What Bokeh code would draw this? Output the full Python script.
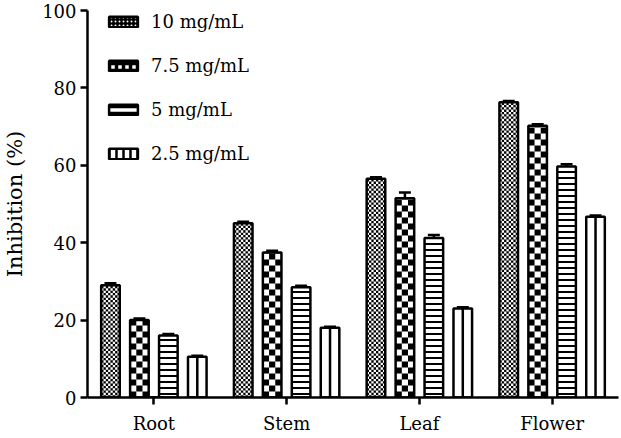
from bokeh.plotting import figure
from bokeh.models import (ColumnDataSource, FactorRange, SingleIntervalTicker, Legend, LegendItem)
from bokeh.transform import dodge
from bokeh.embed import file_html
from bokeh.resources import INLINE

# ---- data ----
cats = ["Root", "Stem", "Leaf", "Flower"]
series_names = ["10 mg/mL", "7.5 mg/mL", "5 mg/mL", "2.5 mg/mL"]
v10 = [29.0, 45.0, 56.5, 76.3]
v75 = [20.0, 37.5, 51.5, 70.2]
v5 = [16.0, 28.5, 41.2, 59.7]
v25 = [10.5, 18.0, 23.0, 46.7]
e10 = [0.5, 0.4, 0.4, 0.3]
e75 = [0.4, 0.4, 1.5, 0.4]
e5 = [0.4, 0.4, 0.8, 0.6]
e25 = [0.3, 0.3, 0.3, 0.3]
y_ticks_interval = 20
y_label = "Inhibition (%)"

FONT = "DejaVu Serif"

p = figure(x_range=FactorRange(factors=cats, range_padding=0), y_range=(0, 100),
           width=621, height=438, output_backend="svg", toolbar_location=None,
           min_border_left=87, min_border_right=3, min_border_top=10, min_border_bottom=41)
p.outline_line_color = None
p.xgrid.visible = False
p.ygrid.visible = False
p.background_fill_color = "white"
p.border_fill_color = "white"

pitch = 0.218
bw = 0.14
offsets = [-1.5 * pitch, -0.5 * pitch, 0.5 * pitch, 1.5 * pitch]
LW = 2.5
cap = 0.045


def checker_cells(vals, off, ncols, cell_h, parity):
    """Cells of a checkerboard texture inside each bar (synthetic x coordinates)."""
    L, R, B, T = [], [], [], []
    cw = bw / ncols
    for ci, v in enumerate(vals):
        xl = ci + 0.5 + off - bw / 2
        j = 0
        while j * cell_h < v:
            b = j * cell_h
            t = min(b + cell_h, v)
            for i in range(ncols):
                if (i + j) % 2 == parity:
                    L.append(xl + i * cw)
                    R.append(xl + (i + 1) * cw)
                    B.append(b)
                    T.append(t)
            j += 1
    return ColumnDataSource(dict(left=L, right=R, bottom=B, top=T))


src = ColumnDataSource(dict(cats=cats, v10=v10, v75=v75, v5=v5, v25=v25,
                            t10=[a + b for a, b in zip(v10, e10)],
                            t75=[a + b for a, b in zip(v75, e75)],
                            t5=[a + b for a, b in zip(v5, e5)],
                            t25=[a + b for a, b in zip(v25, e25)],
                            zero=[0] * len(cats)))
keys = ["10", "75", "5", "25"]

# 10 mg/mL: black bars with a fine white checker
p.vbar(x=dodge("cats", offsets[0], range=p.x_range), top="v10", bottom=0, width=bw, source=src,
       fill_color="black", line_color=None)
p.quad(left="left", right="right", bottom="bottom", top="top",
       source=checker_cells(v10, offsets[0], 8, 0.6, 0), fill_color="white", line_color=None)

# 7.5 mg/mL: coarse checker
p.vbar(x=dodge("cats", offsets[1], range=p.x_range), top="v75", bottom=0, width=bw, source=src,
       fill_color="white", line_color=None)
p.quad(left="left", right="right", bottom="bottom", top="top",
       source=checker_cells(v75, offsets[1], 3, 1.55, 0), fill_color="black", line_color=None)

# 5 mg/mL: horizontal lines
p.vbar(x=dodge("cats", offsets[2], range=p.x_range), top="v5", bottom=0, width=bw, source=src,
       fill_color="white", line_color=None, hatch_pattern="horizontal_line", hatch_scale=6,
       hatch_weight=2, hatch_color="black")

# 2.5 mg/mL: one vertical line in the middle
p.segment(x0=dodge("cats", offsets[3], range=p.x_range), x1=dodge("cats", offsets[3], range=p.x_range),
          y0="zero", y1="v25", source=src, line_color="black", line_width=LW)

# outlines
for k, off in zip(keys, offsets):
    p.vbar(x=dodge("cats", off, range=p.x_range), top="v" + k, bottom=0, width=bw, source=src,
           fill_color=None, line_color="black", line_width=LW)

# error bars
for k, off in zip(keys, offsets):
    p.segment(x0=dodge("cats", off, range=p.x_range), x1=dodge("cats", off, range=p.x_range),
              y0="v" + k, y1="t" + k, source=src, line_color="black", line_width=LW)
    p.segment(x0=dodge("cats", off - cap, range=p.x_range), x1=dodge("cats", off + cap, range=p.x_range),
              y0="t" + k, y1="t" + k, source=src, line_color="black", line_width=LW)

# legend swatches (drawn below the visible frame, used only by the legend)
dummy_src = ColumnDataSource(dict(cats=cats[:1], top=[-20], bottom=[-30]))
swatch_styles = [
    dict(fill_color="black", hatch_pattern="dot", hatch_scale=4, hatch_weight=1.5, hatch_color="white"),
    dict(fill_color="white", hatch_pattern="cross", hatch_scale=7, hatch_weight=3.5, hatch_color="black"),
    dict(fill_color="white", hatch_pattern="horizontal_line", hatch_scale=6, hatch_weight=2.5, hatch_color="black"),
    dict(fill_color="white", hatch_pattern="vertical_line", hatch_scale=7, hatch_weight=2.5, hatch_color="black"),
]
items = []
for name, st in zip(series_names, swatch_styles):
    r = p.vbar(x="cats", top="top", bottom="bottom", width=bw, source=dummy_src,
               line_color="black", line_width=LW, **st)
    items.append(LegendItem(label=name, renderers=[r]))

legend = Legend(items=items, location=(18, 233), margin=0, padding=0, spacing=23,
                glyph_width=36, glyph_height=13, label_standoff=10, label_height=21,
                background_fill_alpha=0, border_line_color=None,
                label_text_font=FONT, label_text_font_size="18px", label_text_color="black")
p.add_layout(legend, "center")

# axes
for ax in (p.xaxis[0], p.yaxis[0]):
    ax.axis_line_width = LW
    ax.axis_line_color = "black"
    ax.major_tick_line_width = LW
    ax.major_tick_line_color = "black"
    ax.major_tick_out = 7
    ax.major_tick_in = 0
    ax.minor_tick_line_color = None
    ax.major_label_text_font = FONT
    ax.major_label_text_font_size = "18px"
    ax.major_label_text_color = "black"

p.yaxis[0].ticker = SingleIntervalTicker(interval=y_ticks_interval, num_minor_ticks=0)
p.yaxis[0].major_label_standoff = 4
p.xaxis[0].major_label_standoff = 8
p.yaxis[0].axis_label = y_label
p.yaxis[0].axis_label_text_font = FONT
p.yaxis[0].axis_label_text_font_size = "21px"
p.yaxis[0].axis_label_text_font_style = "normal"
p.yaxis[0].axis_label_text_color = "black"
p.yaxis[0].axis_label_standoff = 12

open("out.html", "w").write(file_html(p, INLINE))
